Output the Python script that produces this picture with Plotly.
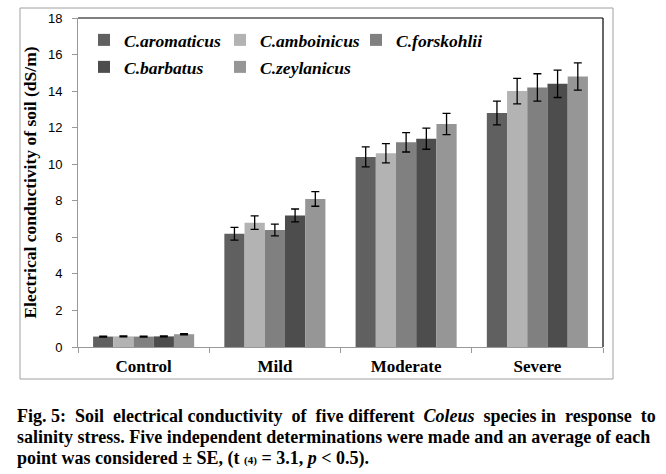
import plotly.graph_objects as go

categories = ["Control", "Mild", "Moderate", "Severe"]
species = ["C.aromaticus", "C.amboinicus", "C.forskohlii", "C.barbatus", "C.zeylanicus"]
colors = ["#606060", "#b3b3b3", "#808080", "#4d4d4d", "#969696"]

aromaticus = [0.57, 6.2, 10.4, 12.8]
amboinicus = [0.58, 6.8, 10.6, 14.0]
forskohlii = [0.57, 6.4, 11.2, 14.2]
barbatus = [0.58, 7.2, 11.4, 14.4]
zeylanicus = [0.70, 8.1, 12.2, 14.8]

err_aromaticus = [0.03, 0.35, 0.55, 0.65]
err_amboinicus = [0.03, 0.37, 0.53, 0.70]
err_forskohlii = [0.03, 0.32, 0.53, 0.75]
err_barbatus = [0.03, 0.35, 0.58, 0.75]
err_zeylanicus = [0.03, 0.40, 0.58, 0.75]

values = [aromaticus, amboinicus, forskohlii, barbatus, zeylanicus]
errors = [err_aromaticus, err_amboinicus, err_forskohlii, err_barbatus, err_zeylanicus]
legend_ids = ["legend", "legend", "legend", "legend2", "legend2"]

caption_lines = [
    "Fig. 5: Soil electrical conductivity of five different <i>Coleus</i> species in response to",
    "salinity stress. Five independent determinations were made and an average of each",
    "point was considered ± SE, (t <span style='font-size:11px'>(4)</span> = 3.1, <i>p</i> < 0.5).",
]
caption_extra_spaces = [8, 0, 0]

W, H = 666, 474
L, R, T, B = 78, 63, 18, 127
pw = W - L - R
ph = H - T - B

def px(x):
    return (x - L) / pw

def py(y):
    return (H - B - y) / ph

def justify(line, extra):
    words = line.split(" ")
    gaps = len(words) - 1
    if extra <= 0 or gaps <= 0:
        return line
    out = words[0]
    for i, w in enumerate(words[1:]):
        n = extra * (i + 1) // gaps - extra * i // gaps
        out += " " + "\u00a0" * n + w
    return out

fig = go.Figure()
for name, vals, errs, col, lg in zip(species, values, errors, colors, legend_ids):
    fig.add_trace(go.Bar(
        x=categories, y=vals, name=name,
        marker=dict(color=col, line=dict(width=0)),
        error_y=dict(type="data", array=errs, color="black", thickness=1.3, width=4),
        legend=lg,
    ))

serif = "Liberation Serif"
legend_font = dict(family=serif, size=17.5, color="black", weight="bold", style="italic")

fig.update_layout(
    width=W, height=H,
    margin=dict(l=L, r=R, t=T, b=B, autoexpand=False),
    paper_bgcolor="white", plot_bgcolor="white",
    barmode="group", bargap=0.23, bargroupgap=0,
    showlegend=True,
    legend=dict(orientation="h", x=px(84), y=py(40), xanchor="left", yanchor="middle",
                font=legend_font, entrywidth=91, entrywidthmode="pixels",
                bgcolor="rgba(0,0,0,0)", tracegroupgap=0, itemclick=False),
    legend2=dict(orientation="h", x=px(84), y=py(67), xanchor="left", yanchor="middle",
                 font=legend_font, entrywidth=91, entrywidthmode="pixels",
                 bgcolor="rgba(0,0,0,0)", tracegroupgap=0, itemclick=False),
    xaxis=dict(showline=True, linecolor="#999999", linewidth=1,
               ticks="outside", tickson="boundaries", ticklen=5, tickcolor="#999999",
               tickfont=dict(family=serif, size=17, color="black", weight="bold"),
               showgrid=False, ticklabelstandoff=4),
    yaxis=dict(range=[0, 18], dtick=2, showline=True, linecolor="#999999", linewidth=1,
               ticks="outside", ticklen=5, tickcolor="#999999",
               tickfont=dict(family="Liberation Sans", size=13, color="black"),
               showgrid=False, zeroline=False, ticklabelstandoff=7,
               title=dict(text="Electrical conductivity of soil (dS/m)",
                          font=dict(family=serif, size=17.5, color="black", weight="bold"),
                          standoff=6)),
    font=dict(family=serif, color="black"),
)

# plot-area top/right border (black) and outer chart frame (gray)
fig.add_shape(type="line", xref="paper", yref="paper", x0=0, x1=1, y0=1, y1=1,
              line=dict(color="black", width=1.2))
fig.add_shape(type="line", xref="paper", yref="paper", x0=1, x1=1, y0=0, y1=1,
              line=dict(color="black", width=1.2))
fig.add_shape(type="rect", xref="paper", yref="paper",
              x0=px(20), x1=px(613), y0=py(379), y1=py(8),
              line=dict(color="#a0a0a0", width=1))

caption_y = [416, 437, 458]
for txt, extra, yy in zip(caption_lines, caption_extra_spaces, caption_y):
    fig.add_annotation(text=justify(txt, extra), xref="paper", yref="paper", x=px(15), y=py(yy),
                       xanchor="left", yanchor="middle", showarrow=False,
                       font=dict(family=serif, size=18, color="black", weight="bold"))

fig.write_html("out.html", config={"displayModeBar": False},
               post_script="document.body.style.margin='0px';document.body.style.overflow='hidden';")
